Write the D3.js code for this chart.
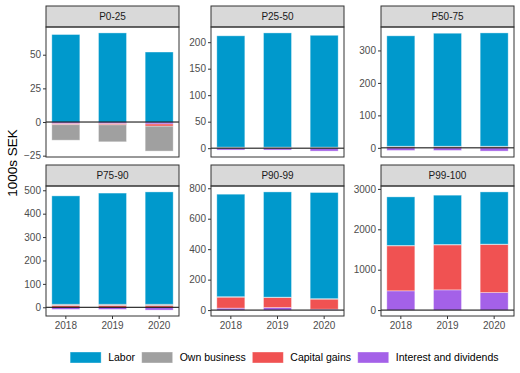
<!DOCTYPE html>
<html>
<head>
<meta charset="utf-8">
<script src="https://cdn.jsdelivr.net/npm/d3@7"></script>
<style>
  body { margin: 0; background: #fff; }
  text { font-family: "Liberation Sans", Arial, sans-serif; }
</style>
</head>
<body>
<svg id="chart" width="520" height="373"></svg>
<script>
// data (1000s SEK)
const years = ["2018", "2019", "2020"];
const groups = ["P0-25", "P25-50", "P50-75", "P75-90", "P90-99", "P99-100"];
const sources = ["Labor", "Own business", "Capital gains", "Interest and dividends"];

const labor        = [[65, 66.2, 52], [210, 215.5, 211], [340, 348, 349], [463, 475, 480], [673, 691, 697], [1202, 1220, 1293]];
const ownBusiness  = [[-11.5, -12.6, -18.5], [1, 1, 1], [2, 2, 2], [5, 5, 6], [3, 3, 3], [10, 10, 10]];
const capitalGains = [[-0.7, -0.8, -1.6], [1, 1, 1], [3, 3, 3], [8, 8, 7], [72, 65, 66], [1114, 1114, 1188]];
const interest     = [[-1.3, -1.3, -1.5], [-3.5, -3.5, -5.5], [-8, -8, -10], [-9, -9, -12], [13, 17, 6], [477, 501, 435]];

const yTicks = [[-25, 0, 25, 50], [0, 50, 100, 150, 200], [0, 100, 200, 300],
                [0, 100, 200, 300, 400, 500], [0, 200, 400, 600, 800], [0, 1000, 2000, 3000]];

const colors = {"Labor": "#0099cc", "Own business": "#a0a0a0",
                "Capital gains": "#f05252", "Interest and dividends": "#a461e8"};

const svg = d3.select("#chart");

const colX = [46, 211, 381];
const rowY = [6, 165];
const panelW = 133, stripH = 21, plotH = 130;

// stack from zero outward: interest first, labor last
const stackKeys = ["Interest and dividends", "Capital gains", "Own business", "Labor"];
const stack = d3.stack().keys(stackKeys).offset(d3.stackOffsetDiverging);

groups.forEach((g, gi) => {
  const x0 = colX[gi % 3], y0 = rowY[Math.floor(gi / 3)];
  const top = y0 + stripH;

  const rows = years.map((yr, i) => ({
    year: yr,
    "Labor": labor[gi][i],
    "Own business": ownBusiness[gi][i],
    "Capital gains": capitalGains[gi][i],
    "Interest and dividends": interest[gi][i]
  }));
  const series = stack(rows);

  let lo = d3.min(series, s => d3.min(s, d => d[0]));
  let hi = d3.max(series, s => d3.max(s, d => d[1]));
  lo = Math.min(lo, 0); hi = Math.max(hi, 0);
  const pad = (hi - lo) * 0.05;

  const x = d3.scaleBand().domain(years).range([x0, x0 + panelW])
    .paddingInner(0.4).paddingOuter(0.125);
  const y = d3.scaleLinear().domain([lo - pad, hi + pad]).range([top + plotH, top]);

  const g0 = svg.append("g");

  // strip
  g0.append("rect").attr("x", x0).attr("y", y0).attr("width", panelW).attr("height", stripH)
    .attr("fill", "#d9d9d9").attr("stroke", "#333").attr("stroke-width", 1);
  g0.append("text").attr("x", x0 + panelW / 2).attr("y", y0 + stripH / 2).attr("dy", "0.35em")
    .attr("text-anchor", "middle").attr("font-size", 10).attr("fill", "#1a1a1a").text(g);

  // bars
  g0.selectAll("g.layer").data(series).join("g")
    .attr("fill", s => colors[s.key])
    .selectAll("rect").data(s => s).join("rect")
    .attr("x", d => x(d.data.year))
    .attr("width", x.bandwidth())
    .attr("y", d => y(Math.max(d[0], d[1])))
    .attr("height", d => Math.abs(y(d[0]) - y(d[1])))
    .attr("stroke", "#fff").attr("stroke-opacity", 0.45).attr("stroke-width", 0.8);

  // zero line
  g0.append("line").attr("x1", x0).attr("x2", x0 + panelW)
    .attr("y1", y(0)).attr("y2", y(0)).attr("stroke", "#000").attr("stroke-width", 1);

  // panel border
  g0.append("rect").attr("x", x0).attr("y", top).attr("width", panelW).attr("height", plotH)
    .attr("fill", "none").attr("stroke", "#333").attr("stroke-width", 1);

  // y axis
  const ya = g0.append("g").attr("transform", `translate(${x0},0)`)
    .call(d3.axisLeft(y).tickValues(yTicks[gi]).tickFormat(d3.format("d")).tickSize(3).tickPadding(2));
  ya.select(".domain").remove();
  ya.selectAll("line").attr("stroke", "#333");
  ya.selectAll("text").attr("font-size", 10).attr("fill", "#4d4d4d").attr("font-family", null);

  // x axis on bottom row only
  if (gi >= 3) {
    const xa = g0.append("g").attr("transform", `translate(0,${top + plotH})`)
      .call(d3.axisBottom(x).tickSize(3).tickPadding(3));
    xa.select(".domain").remove();
    xa.selectAll("line").attr("stroke", "#333");
    xa.selectAll("text").attr("font-size", 10).attr("fill", "#4d4d4d").attr("font-family", null);
  }
});

// y title
svg.append("text").attr("transform", "translate(17,163) rotate(-90)")
  .attr("text-anchor", "middle").attr("font-size", 13.5).attr("fill", "#000").text("1000s SEK");

// legend
const leg = svg.append("g");
let lx = 0;
sources.forEach(s => {
  const it = leg.append("g").attr("transform", `translate(${lx},0)`);
  it.append("rect").attr("x", 0).attr("y", 352).attr("width", 31).attr("height", 11)
    .attr("fill", colors[s]).attr("stroke", "#fff").attr("stroke-opacity", 0.45).attr("stroke-width", 0.8);
  const t = it.append("text").attr("x", 38).attr("y", 357.7).attr("dy", "0.35em")
    .attr("font-size", 10.5).attr("fill", "#000").text(s);
  lx += 38 + t.node().getComputedTextLength() + 6.7;
});
const legW = lx - 6.7;
leg.attr("transform", `translate(${284.3 - legW / 2},0)`);
</script>
</body>
</html>
